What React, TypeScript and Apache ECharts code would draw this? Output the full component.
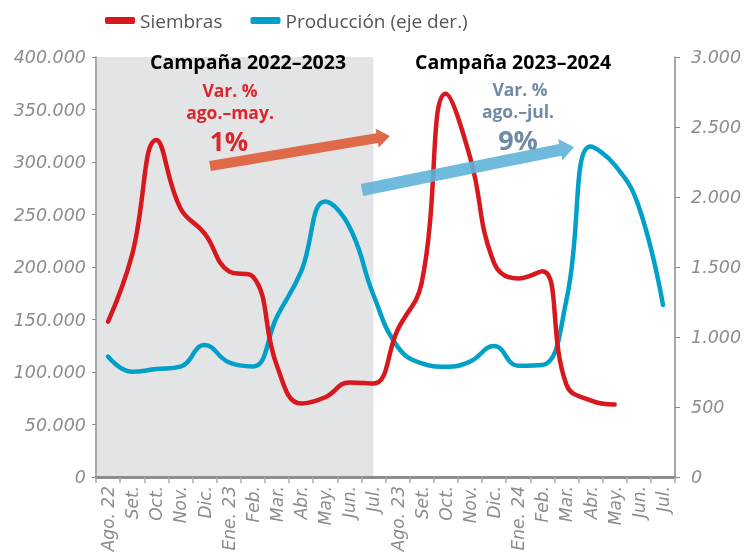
import React, { useEffect, useRef } from "react";
import * as echarts from "echarts";

const categories = [
  "Ago. 22", "Set.", "Oct.", "Nov.", "Dic.", "Ene. 23", "Feb.", "Mar.", "Abr.", "May.", "Jun.", "Jul.",
  "Ago. 23", "Set.", "Oct.", "Nov.", "Dic.", "Ene. 24", "Feb.", "Mar.", "Abr.", "May.", "Jun.", "Jul.",
];
const siembras = [
  148000, 212000, 321000, 256000, 232000, 196000, 191000, 106000, 70000, 76000, 90000, 89000,
  140000, 185000, 365000, 305000, 204000, 189000, 196000, 88000, 73000, 69000, null, null,
];
const produccion = [
  860, 752, 771, 788, 943, 820, 790, 1145, 1467, 1967, 1788, 1300,
  931, 812, 788, 824, 936, 795, 800, 1264, 2360, 2230, 1931, 1229,
];
const leftTicks = { min: 0, max: 400000, interval: 50000 };
const rightTicks = { min: 0, max: 3000, interval: 500 };

const RED = "#d7191f";
const BLUE = "#00a0c8";
const GRAY = "#8c8c8c";

const fmt = (v: number) => String(v).replace(/\B(?=(\d{3})+(?!\d))/g, ".");

function arrow(x1: number, y1: number, x2: number, y2: number, w: number, hw: number, hl: number) {
  const dx = x2 - x1, dy = y2 - y1;
  const L = Math.hypot(dx, dy);
  const ux = dx / L, uy = dy / L;
  const nx = -uy, ny = ux;
  const bx = x2 - ux * hl, by = y2 - uy * hl;
  return [
    [x1 + (nx * w) / 2, y1 + (ny * w) / 2],
    [bx + (nx * w) / 2, by + (ny * w) / 2],
    [bx + (nx * hw) / 2, by + (ny * hw) / 2],
    [x2, y2],
    [bx - (nx * hw) / 2, by - (ny * hw) / 2],
    [bx - (nx * w) / 2, by - (ny * w) / 2],
    [x1 - (nx * w) / 2, y1 - (ny * w) / 2],
  ];
}

export default function App() {
  const ref = useRef<HTMLDivElement>(null);
  useEffect(() => {
    if (!ref.current) return;
    const chart = echarts.init(ref.current, null, { renderer: "svg" });
    const axisFont = { fontFamily: "DejaVu Sans", fontStyle: "italic" as const, color: GRAY, fontSize: 17 };
    const option: any = {
      animation: false,
      textStyle: { fontFamily: "Open Sans" },
      legend: {
        left: 100,
        top: 6,
        itemWidth: 30,
        itemHeight: 7,
        itemGap: 28,
        icon: "roundRect",
        textStyle: { fontSize: 19, color: "#555", fontFamily: "Open Sans" },
        data: ["Siembras", "Producción (eje der.)"],
      },
      grid: { left: 96, right: 71, top: 57, bottom: 78 },
      xAxis: {
        type: "category",
        data: categories,
        boundaryGap: true,
        axisLine: { lineStyle: { color: GRAY, width: 3 } },
        axisTick: { show: true, interval: 0, length: 6, lineStyle: { color: "#aaa", width: 1.5 } },
        axisLabel: { ...axisFont, rotate: 90, interval: 0, margin: 9 },
      },
      yAxis: [
        {
          type: "value",
          ...leftTicks,
          axisLine: { show: true, lineStyle: { color: GRAY, width: 1.5 } },
          axisTick: { show: true, length: 4, lineStyle: { color: GRAY } },
          splitLine: { show: false },
          axisLabel: { ...axisFont, fontSize: 17.5, margin: 10, formatter: (v: number) => fmt(v) },
        },
        {
          type: "value",
          ...rightTicks,
          position: "right",
          axisLine: { show: true, lineStyle: { color: GRAY, width: 1.5 } },
          axisTick: { show: true, length: 5, lineStyle: { color: GRAY } },
          splitLine: { show: false },
          axisLabel: { ...axisFont, fontSize: 17.5, margin: 16, formatter: (v: number) => fmt(v) },
        },
      ],
      series: [
        {
          name: "Siembras",
          type: "line",
          yAxisIndex: 0,
          data: siembras,
          smooth: 0.45,
          showSymbol: false,
          color: RED,
          lineStyle: { color: RED, width: 4.5, cap: "round" },
          z: 3,
        },
        {
          name: "Producción (eje der.)",
          type: "line",
          yAxisIndex: 1,
          data: produccion,
          smooth: 0.45,
          showSymbol: false,
          color: BLUE,
          lineStyle: { color: BLUE, width: 4.5, cap: "round" },
          z: 2,
        },
      ],
    };
    chart.setOption(option);

    const x0 = chart.convertToPixel({ xAxisIndex: 0 }, 0) as number;
    const x1c = chart.convertToPixel({ xAxisIndex: 0 }, 1) as number;
    const band = x1c - x0;
    const left = x0 - band / 2;
    const right = chart.convertToPixel({ xAxisIndex: 0 }, 11) as number;
    const top = chart.convertToPixel({ yAxisIndex: 0 }, leftTicks.max) as number;
    const bottom = chart.convertToPixel({ yAxisIndex: 0 }, leftTicks.min) as number;

    const titleStyle = { fontFamily: "Open Sans", fontWeight: "bold", fontSize: 19.5, fill: "#000", align: "center", verticalAlign: "middle" };
    const redTxt = { fontFamily: "Open Sans", fontWeight: "bold", fill: "#d9272e", align: "center", verticalAlign: "middle" };
    const blueTxt = { fontFamily: "Open Sans", fontWeight: "bold", fill: "#6f8ba6", align: "center", verticalAlign: "middle" };

    chart.setOption({
      graphic: [
        {
          type: "rect",
          z: -10,
          silent: true,
          shape: { x: left + 1, y: top, width: right - left - 1, height: bottom - top },
          style: { fill: "#e3e4e6" },
        },
        { type: "text", x: 248, y: 61, style: { ...titleStyle, text: "Campaña 2022–2023" } },
        { type: "text", x: 513, y: 61, style: { ...titleStyle, text: "Campaña 2023–2024" } },
        { type: "text", x: 230, y: 90, style: { ...redTxt, fontSize: 17.5, text: "Var. %" } },
        { type: "text", x: 230, y: 112, style: { ...redTxt, fontSize: 17.5, text: "ago.–may." } },
        { type: "text", x: 229, y: 141, style: { ...redTxt, fontSize: 26, text: "1%" } },
        { type: "text", x: 520, y: 89, style: { ...blueTxt, fontSize: 17.5, text: "Var. %" } },
        { type: "text", x: 518, y: 111, style: { ...blueTxt, fontSize: 17.5, text: "ago.–jul." } },
        { type: "text", x: 518, y: 139, style: { ...blueTxt, fontSize: 27, text: "9%" } },
        {
          type: "polygon",
          z: 5,
          shape: { points: arrow(210, 166, 390, 136, 10, 19, 13) },
          style: { fill: "#e0694a" },
        },
        {
          type: "polygon",
          z: 5,
          shape: { points: arrow(362, 190, 574, 147, 12, 22, 14) },
          style: { fill: "#5fb3d9", opacity: 0.9 },
        },
      ],
    });
    return () => chart.dispose();
  }, []);
  return <div ref={ref} style={{ position: "fixed", left: 0, top: 0, width: 746, height: 555 }} />;
}
